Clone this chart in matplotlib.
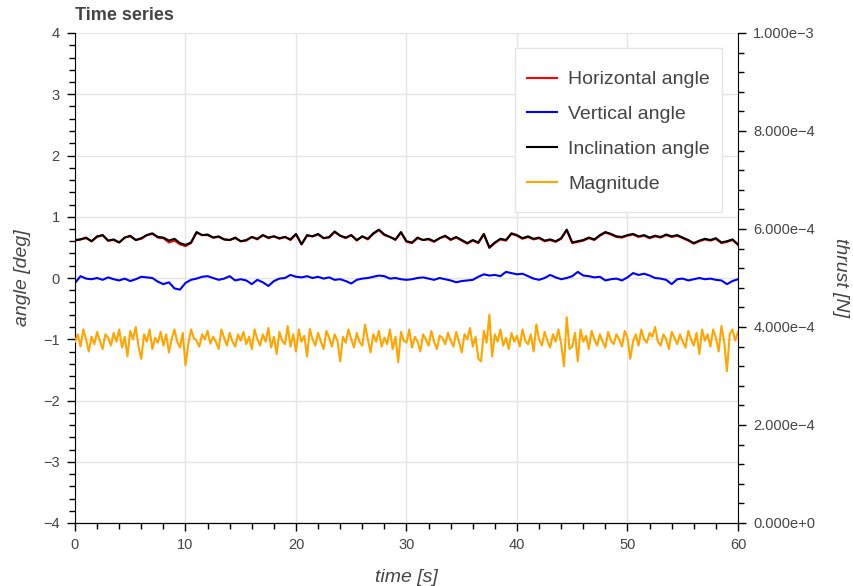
import numpy as np
import matplotlib
matplotlib.use('Agg')
import matplotlib.pyplot as plt
from matplotlib.patches import Rectangle
from matplotlib.ticker import MultipleLocator, AutoMinorLocator, FuncFormatter

plt.rcParams['font.family'] = ['Liberation Sans', 'DejaVu Sans']

# angles sampled every 0.5 s, 0..60 s
inclination = [
    0.62, 0.63, 0.66, 0.60, 0.68, 0.70, 0.61, 0.63, 0.58, 0.66, 0.69, 0.62, 0.65, 0.70, 0.73, 0.67,
    0.66, 0.61, 0.64, 0.57, 0.54, 0.58, 0.75, 0.70, 0.71, 0.66, 0.68, 0.63, 0.62, 0.66, 0.60,
    0.62, 0.67, 0.64, 0.70, 0.66, 0.68, 0.65, 0.67, 0.63, 0.72, 0.55, 0.70, 0.68, 0.72, 0.65,
    0.67, 0.76, 0.69, 0.66, 0.70, 0.62, 0.68, 0.64, 0.73, 0.79, 0.71, 0.67, 0.63, 0.75, 0.60,
    0.58, 0.66, 0.62, 0.64, 0.60, 0.65, 0.69, 0.63, 0.67, 0.62, 0.57, 0.62, 0.58, 0.72, 0.50,
    0.58, 0.64, 0.62, 0.73, 0.70, 0.65, 0.68, 0.64, 0.66, 0.61, 0.63, 0.60, 0.65, 0.79, 0.58,
    0.60, 0.62, 0.66, 0.63, 0.70, 0.75, 0.72, 0.68, 0.67, 0.70, 0.72, 0.68, 0.70, 0.66, 0.69,
    0.67, 0.71, 0.68, 0.70, 0.66, 0.62, 0.57, 0.61, 0.64, 0.62, 0.65, 0.58, 0.60, 0.63, 0.55,
]
horizontal = [
    0.61, 0.63, 0.65, 0.60, 0.67, 0.70, 0.61, 0.62, 0.58, 0.66, 0.68, 0.62, 0.64, 0.70, 0.72, 0.66,
    0.65, 0.58, 0.61, 0.55, 0.52, 0.57, 0.74, 0.70, 0.70, 0.66, 0.67, 0.63, 0.62, 0.65, 0.60,
    0.61, 0.67, 0.63, 0.70, 0.65, 0.68, 0.64, 0.67, 0.62, 0.71, 0.55, 0.69, 0.68, 0.71, 0.65,
    0.66, 0.75, 0.69, 0.65, 0.70, 0.61, 0.68, 0.63, 0.72, 0.78, 0.70, 0.67, 0.62, 0.74, 0.59,
    0.57, 0.65, 0.62, 0.63, 0.59, 0.65, 0.68, 0.62, 0.66, 0.61, 0.56, 0.61, 0.57, 0.71, 0.49,
    0.57, 0.63, 0.61, 0.72, 0.69, 0.64, 0.67, 0.63, 0.65, 0.60, 0.62, 0.59, 0.64, 0.78, 0.57,
    0.59, 0.61, 0.65, 0.62, 0.69, 0.74, 0.71, 0.67, 0.66, 0.69, 0.71, 0.67, 0.69, 0.65, 0.68,
    0.66, 0.70, 0.67, 0.69, 0.65, 0.61, 0.56, 0.60, 0.63, 0.61, 0.64, 0.57, 0.59, 0.62, 0.54,
]
vertical = [
    -0.08, 0.03, -0.01, -0.02, 0.00, -0.03, 0.01, -0.02, -0.04, -0.01, -0.05, -0.02, 0.02, 0.01, 0.00, -0.06,
    -0.10, -0.07, -0.17, -0.19, -0.08, -0.03, -0.01, 0.02, 0.03, 0.00, -0.03, -0.01, 0.03, -0.04, -0.02,
    -0.04, -0.10, -0.03, -0.07, -0.13, -0.05, -0.01, 0.00, 0.05, 0.02, 0.01, 0.03, 0.00, 0.02, -0.01,
    0.01, -0.03, -0.02, -0.05, -0.09, -0.03, -0.01, 0.00, 0.02, 0.04, 0.03, -0.01, 0.00, -0.02, -0.03,
    -0.02, 0.00, 0.01, -0.01, -0.03, 0.00, -0.02, -0.04, -0.07, -0.05, -0.04, -0.03, 0.02, 0.06, 0.04,
    0.05, 0.03, 0.10, 0.08, 0.06, 0.07, 0.03, -0.01, -0.03, 0.00, 0.05, 0.01, -0.02, 0.00, 0.03,
    0.10, 0.04, 0.03, 0.01, 0.02, -0.04, -0.02, -0.01, -0.04, 0.01, 0.08, 0.05, 0.07, 0.04, 0.00,
    -0.01, -0.03, -0.10, -0.02, -0.01, -0.04, -0.02, 0.00, -0.02, -0.01, -0.03, -0.04, -0.10, -0.05, -0.02,
]
# thrust magnitude in units of 1e-4 N, sampled every 0.25 s
magnitude_e4 = [
    3.70, 3.85, 3.60, 3.95, 3.75, 3.50, 3.80, 3.65, 3.90, 3.72, 3.55, 3.85, 3.78, 3.62, 3.88, 3.70,
    3.95, 3.58, 3.80, 3.40, 3.92, 3.75, 4.00, 3.60, 3.35, 3.85, 3.70, 3.95, 3.55, 3.78, 3.68, 3.90,
    3.62, 3.85, 3.48, 3.75, 3.95, 3.70, 3.58, 3.88, 3.22, 3.65, 3.95, 3.78, 3.72, 3.60, 3.85, 3.75,
    3.92, 3.66, 3.80, 3.70, 3.55, 3.95, 3.78, 3.62, 3.88, 3.70, 3.60, 3.85,
    3.72, 3.90, 3.65, 3.80, 3.55, 3.95, 3.75, 3.62, 3.85, 3.70, 3.98, 3.58, 3.80, 3.45, 3.90, 3.72,
    3.65, 4.02, 3.60, 3.85, 3.50, 3.95, 3.70, 3.82, 3.40, 3.96, 3.75, 3.62, 3.88, 3.70, 3.55, 3.92,
    3.78, 3.60, 3.85, 3.72, 3.30, 3.80, 3.68, 3.95, 3.75, 3.58, 3.88, 3.70, 3.62, 4.05, 3.75, 3.48,
    3.85, 3.70, 3.92, 3.60, 3.78, 3.65, 3.95, 3.55, 3.80, 3.28, 3.90, 3.72,
    3.68, 3.95, 3.58, 3.80, 3.70, 3.50, 3.85, 3.75, 3.62, 3.92, 3.70, 3.55, 3.82, 3.78, 3.65, 3.88,
    3.72, 3.60, 3.90, 3.70, 3.48, 3.85, 3.75, 3.98, 3.60, 3.80, 3.35, 3.30, 3.92, 3.68, 4.25, 3.40,
    3.85, 3.70, 3.95, 3.62, 3.78, 3.55, 3.88, 3.70, 3.82, 3.60, 3.95, 3.72, 3.65, 3.85, 3.50, 4.05,
    3.75, 3.62, 3.90, 3.72, 3.58, 3.85, 3.70, 3.95, 3.65, 3.20, 4.20, 3.55,
    3.60, 3.88, 3.30, 3.95, 3.70, 3.82, 3.55, 3.92, 3.75, 3.62, 3.85, 3.70, 3.58, 3.90, 3.72, 3.65,
    3.85, 3.75, 3.60, 3.92, 3.78, 3.35, 3.70, 3.85, 3.62, 3.95, 3.75, 3.68, 3.88, 3.80, 4.00, 3.70,
    3.62, 3.85, 3.75, 3.55, 3.90, 3.78, 3.65, 3.85, 3.70, 3.58, 3.92, 3.75, 3.62, 3.88, 3.45, 3.95,
    3.72, 3.85, 3.60, 3.95, 3.78, 3.50, 4.02, 3.70, 3.10, 3.85, 3.95, 3.72, 3.90,
]

tAngle = np.linspace(0, 60, len(inclination))
tMag = np.linspace(0, 60, len(magnitude_e4))
thrust = np.array(magnitude_e4) * 1e-4

textColor = '#444444'

fig = plt.figure(figsize=(8.54, 5.86), dpi=100)
ax = fig.add_axes([75/854, 63/586, 663/854, 490/586])
ax2 = ax.twinx()

l1, = ax.plot(tAngle, horizontal, color='red', lw=1.5, label='Horizontal angle')
l2, = ax.plot(tAngle, vertical, color='blue', lw=1.5, label='Vertical angle')
l3, = ax.plot(tAngle, inclination, color='black', lw=1.5, label='Inclination angle')
l4, = ax2.plot(tMag, thrust, color='orange', lw=1.5, label='Magnitude')

ax.set_xlim(0, 60)
ax.set_ylim(-4, 4)
ax2.set_ylim(0, 1e-3)

ax.xaxis.set_major_locator(MultipleLocator(10))
ax.xaxis.set_minor_locator(AutoMinorLocator(5))
ax.yaxis.set_major_locator(MultipleLocator(1))
ax.yaxis.set_minor_locator(AutoMinorLocator(5))
ax2.yaxis.set_major_locator(MultipleLocator(2e-4))
ax2.yaxis.set_minor_locator(AutoMinorLocator(5))

def sciFmt(v, pos):
    if v == 0:
        return '0.000e+0'
    exp = int(np.floor(np.log10(abs(v))))
    mant = v / 10**exp
    sign = '+' if exp >= 0 else '\u2212'
    return f'{mant:.3f}e{sign}{abs(exp)}'

ax2.yaxis.set_major_formatter(FuncFormatter(sciFmt))
ax.yaxis.set_major_formatter(FuncFormatter(lambda v, p: f'{v:.0f}'.replace('-', '\u2212')))

ax.grid(True, which='major', color='#e5e5e5', lw=1)
ax.set_axisbelow(True)

for a in (ax, ax2):
    a.spines['top'].set_visible(False)
    a.tick_params(which='major', length=6, width=1, colors='black', labelcolor=textColor,
                  labelsize=10.5, pad=5)
    a.tick_params(which='minor', length=4, width=1, colors='black')
ax2.spines['left'].set_visible(False)
ax.spines['right'].set_visible(False)

ax.set_xlabel('time [s]', fontsize=14, style='italic', color=textColor, labelpad=12)
ax.set_ylabel('angle [deg]', fontsize=14, style='italic', color=textColor, labelpad=9)
ax2.set_ylabel('thrust [N]', fontsize=14, style='italic', color=textColor, rotation=270, labelpad=24)
ax.set_title('Time series', loc='left', fontsize=13, fontweight='bold', color=textColor, pad=9)

# legend box drawn separately (bokeh style padding)
legBox = Rectangle((0.6637, 0.6347), 0.3122, 0.3347, transform=ax2.transAxes,
                   facecolor='white', edgecolor='#e5e5e5', lw=1, zorder=4)
ax2.add_patch(legBox)
leg = ax2.legend(handles=[l1, l2, l3, l4], loc='upper left', bbox_to_anchor=(0.682, 0.923),
                 fontsize=14, frameon=False, borderpad=0, labelspacing=0.88,
                 handlelength=1.55, handletextpad=0.57, borderaxespad=0)
leg.set_zorder(5)
for txt in leg.get_texts():
    txt.set_color(textColor)

fig.savefig('out.png', dpi=100, facecolor='w')
